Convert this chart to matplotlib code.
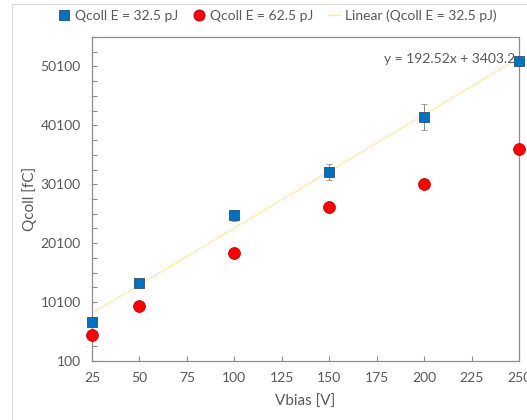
import matplotlib
matplotlib.use("Agg")
import matplotlib.pyplot as plt
import numpy as np
from matplotlib.ticker import FixedLocator
from matplotlib.lines import Line2D
from matplotlib.patches import Rectangle

plt.rcParams['font.family'] = ['Lato', 'DejaVu Sans']

vbias = [25, 50, 100, 150, 200, 250]
q_325 = [6760, 13270, 24800, 32200, 41500, 51100]
q_325_err = [300, 400, 900, 1400, 2250, 400]
q_625 = [4500, 9470, 18350, 26250, 30100, 36030]
q_625_err = [200, 300, 300, 500, 700, 800]
fit_slope = 192.52
fit_intercept = 3403.2
xticks = [25, 50, 75, 100, 125, 150, 175, 200, 225, 250]
yticks = [100, 10100, 20100, 30100, 40100, 50100]

txt = '#595959'
trend = '#FFE08A'
fig = plt.figure(figsize=(5.27, 4.20), dpi=100)
fig.patches.append(Rectangle((12/527, -0.1), 1.2, (420-4)/420 + 0.1, transform=fig.transFigure,
                             fill=False, edgecolor='#D9D9D9', lw=0.8))
ax = fig.add_axes([92/527, 1-361/420, (519-92)/527, (361-37)/420])

xs = np.array([25, 250])
ax.plot(xs, fit_slope*xs + fit_intercept, color=trend, lw=1.1, ls=(0, (1, 0.6)), zorder=1)

ax.errorbar(vbias, q_625, yerr=q_625_err, fmt='o', color='#FF0000', mec='#C00000', mew=0.6,
            ms=8.5, ecolor='#8c8c8c', elinewidth=0.7, capsize=2, capthick=0.7, zorder=3, clip_on=False)
ax.errorbar(vbias, q_325, yerr=q_325_err, fmt='s', color='#0070C0', mec='#2F4F6F', mew=0.6,
            ms=7.5, ecolor='#8c8c8c', elinewidth=0.7, capsize=2, capthick=0.7, zorder=4, clip_on=False)

ax.set_xlim(25, 250)
ax.set_ylim(100, 55100)
ax.xaxis.set_major_locator(FixedLocator(xticks))
ax.yaxis.set_major_locator(FixedLocator(yticks))
ax.yaxis.set_minor_locator(FixedLocator(np.arange(100, 55101, 2500)))
ax.tick_params(axis='both', which='both', direction='in', length=3.5, width=0.8, color='#8c8c8c',
               labelcolor=txt, labelsize=10)
ax.tick_params(axis='x', pad=8)
ax.tick_params(axis='y', pad=8)
for s in ax.spines.values():
    s.set_color('#8c8c8c')
    s.set_linewidth(0.9)

ax.set_xlabel('Vbias [V]', color=txt, fontsize=11)
ax.set_ylabel('Qcoll [fC]', color=txt, fontsize=11)
ax.xaxis.set_label_coords(0.5, -(402-361)/324, transform=ax.transAxes)
ax.yaxis.set_label_coords((30-92)/427, 0.5, transform=ax.transAxes)
ax.xaxis.label.set_va('center')
ax.yaxis.label.set_va('center')

ax.text(248, 51400, 'y = 192.52x + 3403.2', ha='right', va='center', color=txt, fontsize=10)

handles = [
    Line2D([], [], marker='s', ls='none', color='#0070C0', mec='#2F4F6F', mew=0.6, ms=7),
    Line2D([], [], marker='o', ls='none', color='#FF0000', mec='#C00000', mew=0.6, ms=8),
    Line2D([], [], color=trend, lw=1.0, ls=(0, (1, 0.6))),
]
labels = ['Qcoll E = 32.5 pJ', 'Qcoll E = 62.5 pJ', 'Linear (Qcoll E = 32.5 pJ)']
leg = fig.legend(handles, labels, loc='center', bbox_to_anchor=(277/527, 1-16/420), ncol=3,
                 frameon=False, fontsize=10, handlelength=1.0, handletextpad=0.3, columnspacing=1.0)
for t in leg.get_texts():
    t.set_color(txt)

fig.savefig('out.png', dpi=100)
